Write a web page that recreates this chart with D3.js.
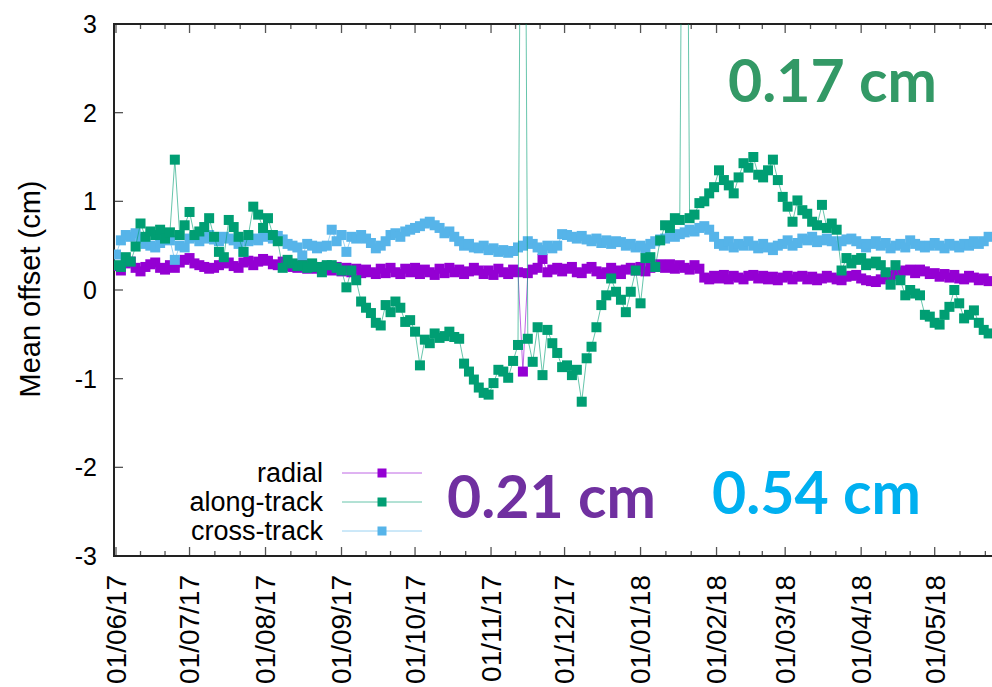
<!DOCTYPE html>
<html>
<head>
<meta charset="utf-8">
<script src="https://cdn.jsdelivr.net/npm/d3@7"></script>
<style>
  body { margin: 0; background: #fff; }
  svg { display: block; }
  text { font-family: "Liberation Sans", Arial, sans-serif; fill: #000; }
</style>
</head>
<body>
<div id="chart"></div>
<script>
// one sample every 2 days from the first day
const startDay = '2017-06-01';
const stepDays = 2;

const radial = [
  0.27, 0.22, 0.30, 0.32, 0.25, 0.21, 0.26, 0.29, 0.31, 0.25,
  0.23, 0.28, 0.25, 0.31, 0.34, 0.36, 0.30, 0.28, 0.26, 0.24,
  0.25, 0.28, 0.30, 0.31, 0.27, 0.25, 0.31, 0.33, 0.28, 0.32,
  0.35, 0.33, 0.29, 0.28, 0.32, 0.27, 0.26, 0.25, 0.29, 0.24,
  0.28, 0.24, 0.23, 0.27, 0.22, 0.26, 0.21, 0.25, 0.20, 0.24,
  0.19, 0.23, 0.20, 0.18, 0.24, 0.19, 0.25, 0.20, 0.18, 0.24,
  0.20, 0.25, 0.18, 0.23, 0.20, 0.17, 0.24, 0.19, 0.25, 0.20,
  0.23, 0.18, 0.21, 0.25, 0.22, 0.18, 0.22, 0.17, 0.24, 0.20,
  0.18, 0.23, 0.20, -0.92, 0.19, 0.23, 0.25, 0.35, 0.20, 0.23,
  0.25, 0.21, 0.24, 0.26, 0.20, 0.19, 0.24, 0.26, 0.21, 0.18,
  0.20, 0.25, 0.22, 0.18, 0.23, 0.25, 0.22, 0.26, 0.21, 0.25,
  0.26, 0.29, 0.25, 0.29, 0.24, 0.28, 0.25, 0.23, 0.28, 0.24,
  0.14, 0.12, 0.16, 0.13, 0.17, 0.12, 0.16, 0.14, 0.12, 0.16,
  0.17, 0.13, 0.16, 0.12, 0.15, 0.11, 0.14, 0.16, 0.12, 0.15,
  0.16, 0.12, 0.15, 0.11, 0.13, 0.16, 0.14, 0.12, 0.11, 0.15,
  0.16, 0.17, 0.13, 0.11, 0.10, 0.09, 0.12, 0.15, 0.16, 0.18,
  0.20, 0.22, 0.23, 0.19, 0.23, 0.21, 0.18, 0.19, 0.15, 0.18,
  0.14, 0.17, 0.13, 0.12, 0.16, 0.14, 0.11, 0.13, 0.10
];

const alongTrack = [
  0.28, 0.26, 0.37, 0.32, 0.49, 0.75, 0.60, 0.66, 0.62, 0.68,
  0.58, 0.65, 1.47, 0.62, 0.73, 0.88, 0.62, 0.66, 0.71, 0.81,
  0.60, 0.43, 0.37, 0.79, 0.71, 0.60, 0.43, 0.62, 0.94, 0.85,
  0.70, 0.81, 0.62, 0.55, 0.25, 0.34, 0.30, 0.27, 0.28, 0.25,
  0.30, 0.26, 0.20, 0.28, 0.28, 0.25, 0.22, 0.03, 0.22, 0.11,
  -0.13, -0.20, -0.26, -0.37, -0.40, -0.17, -0.25, -0.13, -0.20, -0.36,
  -0.34, -0.47, -0.85, -0.56, -0.60, -0.49, -0.54, -0.52, -0.47, -0.53,
  -0.55, -0.83, -0.92, -1.01, -1.10, -1.16, -1.18, -1.05, -0.90, -0.92,
  -0.99, -0.80, -0.62, 10, -0.55, -0.81, -0.42, -0.96, -0.45, -0.60,
  -0.71, -0.87, -0.85, -0.96, -0.90, -1.26, -0.77, -0.64, -0.42, -0.17,
  -0.06, 0.13, -0.02, -0.11, -0.25, -0.02, 0.22, -0.15, 0.36, 0.37,
  0.26, 0.56, 0.73, 0.70, 0.81, 0.79, 10, 0.81, 0.85, 0.98,
  1.00, 1.09, 1.16, 1.35, 1.24, 1.18, 1.09, 1.27, 1.43, 1.38,
  1.50, 1.30, 1.27, 1.35, 1.47, 1.24, 1.05, 0.94, 0.77, 1.01,
  0.90, 0.86, 0.77, 0.73, 0.96, 0.70, 0.75, 0.68, 0.22, 0.36,
  0.30, 0.34, 0.36, 0.28, 0.30, 0.32, 0.28, 0.20, 0.06, 0.28,
  0.11, -0.06, 0.00, -0.04, -0.06, -0.28, -0.30, -0.37, -0.39, -0.28,
  -0.19, 0.00, -0.15, -0.32, -0.28, -0.23, -0.37, -0.45, -0.49
];

const crossTrack = [
  0.40, 0.56, 0.62, 0.60, 0.64, 0.58, 0.52, 0.50, 0.48, 0.53,
  0.58, 0.56, 0.34, 0.50, 0.48, 0.58, 0.60, 0.55, 0.58, 0.62,
  0.57, 0.55, 0.60, 0.58, 0.56, 0.52, 0.43, 0.55, 0.58, 0.56,
  0.60, 0.62, 0.58, 0.61, 0.57, 0.52, 0.50, 0.48, 0.39, 0.52,
  0.50, 0.47, 0.49, 0.50, 0.68, 0.55, 0.62, 0.43, 0.60, 0.58,
  0.62, 0.58, 0.53, 0.47, 0.50, 0.55, 0.62, 0.64, 0.60, 0.66,
  0.68, 0.70, 0.72, 0.75, 0.77, 0.73, 0.70, 0.64, 0.66, 0.60,
  0.55, 0.50, 0.52, 0.48, 0.47, 0.50, 0.45, 0.47, 0.43, 0.45,
  0.42, 0.44, 0.48, 0.50, 0.55, 0.52, 0.48, 0.45, 0.50, 0.47,
  0.50, 0.63, 0.62, 0.60, 0.58, 0.61, 0.57, 0.55, 0.58, 0.53,
  0.56, 0.52, 0.55, 0.54, 0.50, 0.52, 0.48, 0.50, 0.47, 0.52,
  0.55, 0.57, 0.58, 0.62, 0.60, 0.63, 0.65, 0.68, 0.66, 0.70,
  0.72, 0.68, 0.60, 0.52, 0.50, 0.55, 0.48, 0.52, 0.50, 0.55,
  0.50, 0.47, 0.52, 0.48, 0.45, 0.50, 0.52, 0.56, 0.50, 0.53,
  0.58, 0.56, 0.60, 0.54, 0.56, 0.58, 0.55, 0.50, 0.55, 0.57,
  0.58, 0.55, 0.52, 0.48, 0.52, 0.55, 0.50, 0.53, 0.47, 0.50,
  0.52, 0.48, 0.56, 0.52, 0.50, 0.48, 0.50, 0.53, 0.50, 0.47,
  0.52, 0.50, 0.48, 0.52, 0.50, 0.55, 0.52, 0.55, 0.60
];

const seriesNames = ['radial', 'along-track', 'cross-track'];
const seriesColors = ['#9400d3', '#009e73', '#56b4e9'];
const yTicks = [-3, -2, -1, 0, 1, 2, 3];
const firstMonth = '2017-06-01';
const lastMonth = '2018-05-01';
const rmsLabels = ['0.21 cm', '0.17 cm', '0.54 cm'];
const rmsColors = ['#7030a0', '#339966', '#00b0f0'];

const W = 992, H = 687;
const plotLeft = 114, plotRight = 1000, plotTop = 24, plotBottom = 556;

const parse = d3.utcParse('%Y-%m-%d');
const t0 = parse(startDay);
const dates = radial.map((_, i) => d3.utcDay.offset(t0, i * stepDays));

const x = d3.scaleUtc().domain([parse(firstMonth), parse(lastMonth)]).range([116, 934.7]);
x.domain([x.invert(plotLeft), x.invert(plotRight)]).range([plotLeft, plotRight]);
const y = d3.scaleLinear().domain([-3, 3]).range([plotBottom, plotTop]);

const svg = d3.select('#chart').append('svg')
  .attr('width', W)
  .attr('height', H);

svg.append('defs').append('clipPath')
  .attr('id', 'plot-clip')
  .append('rect')
  .attr('x', plotLeft).attr('y', plotTop)
  .attr('width', plotRight - plotLeft).attr('height', plotBottom - plotTop);

// x ticks: months, with two minor ticks in each
const months = d3.utcMonth.range(parse(firstMonth), d3.utcMonth.offset(parse(lastMonth), 2));
const minors = [];
months.forEach(m => {
  const next = d3.utcMonth.offset(m, 1);
  [1, 2].forEach(k => minors.push(new Date(+m + (next - m) * k / 3)));
});

const ticks = svg.append('g')
  .attr('stroke', '#555')
  .attr('stroke-width', 1.3);

months.filter(m => x(m) <= W).forEach(m => {
  ticks.append('line').attr('x1', x(m)).attr('x2', x(m)).attr('y1', plotBottom).attr('y2', plotBottom - 9);
  ticks.append('line').attr('x1', x(m)).attr('x2', x(m)).attr('y1', plotTop).attr('y2', plotTop + 9);
});
minors.filter(m => x(m) <= W).forEach(m => {
  ticks.append('line').attr('x1', x(m)).attr('x2', x(m)).attr('y1', plotBottom).attr('y2', plotBottom - 5);
  ticks.append('line').attr('x1', x(m)).attr('x2', x(m)).attr('y1', plotTop).attr('y2', plotTop + 5);
});
yTicks.forEach(v => {
  ticks.append('line').attr('x1', plotLeft).attr('x2', plotLeft + 9).attr('y1', y(v)).attr('y2', y(v));
});

// X labels
const fmt = d3.utcFormat('%d/%m/%y');
svg.append('g')
  .selectAll('text')
  .data(months.filter(m => x(m) <= W))
  .enter().append('text')
  .attr('transform', d => `translate(${x(d)},575) rotate(-90)`)
  .attr('text-anchor', 'end')
  .attr('dy', '0.35em')
  .attr('font-size', 28)
  .text(d => fmt(d));

// Y labels
svg.append('g')
  .selectAll('text')
  .data(yTicks)
  .enter().append('text')
  .attr('x', 97)
  .attr('y', d => y(d))
  .attr('dy', '0.36em')
  .attr('text-anchor', 'end')
  .attr('font-size', 25)
  .text(d => d);

svg.append('text')
  .attr('transform', 'translate(30,289) rotate(-90)')
  .attr('text-anchor', 'middle')
  .attr('dy', '0.35em')
  .attr('font-size', 29)
  .text('Mean offset (cm)');

// Border
svg.append('path')
  .attr('d', `M${W},${plotTop}H${plotLeft}V${plotBottom}H${W}`)
  .attr('fill', 'none')
  .attr('stroke', '#222')
  .attr('stroke-width', 2);

// Series
const seriesData = [radial, alongTrack, crossTrack];
const plot = svg.append('g').attr('clip-path', 'url(#plot-clip)');
const line = d3.line()
  .x((d, i) => x(dates[i]))
  .y(d => y(d));
const sq = 10;

[0, 2, 1].forEach(s => {
  const g = plot.append('g');
  g.append('path')
    .datum(seriesData[s])
    .attr('fill', 'none')
    .attr('stroke', seriesColors[s])
    .attr('stroke-opacity', 0.6)
    .attr('stroke-width', 1)
    .attr('d', line);
  g.selectAll('rect')
    .data(seriesData[s])
    .enter().append('rect')
    .attr('x', (d, i) => x(dates[i]) - sq / 2)
    .attr('y', d => y(d) - sq / 2)
    .attr('width', sq)
    .attr('height', sq)
    .attr('fill', seriesColors[s]);
});

// Legend
const legendY = [473, 502, 531];
seriesNames.forEach((name, s) => {
  const ly = legendY[s];
  svg.append('text')
    .attr('x', 323)
    .attr('y', ly)
    .attr('dy', '0.35em')
    .attr('text-anchor', 'end')
    .attr('font-size', 27)
    .text(name);
  svg.append('line')
    .attr('x1', 342).attr('x2', 422)
    .attr('y1', ly).attr('y2', ly)
    .attr('stroke', seriesColors[s])
    .attr('stroke-opacity', 0.6)
    .attr('stroke-width', 1);
  svg.append('rect')
    .attr('x', 382 - 4.5).attr('y', ly - 4.5)
    .attr('width', 9).attr('height', 9)
    .attr('fill', seriesColors[s]);
});

// RMS annotations
const rmsPos = [[447, 518], [728, 102], [712, 514]];
rmsLabels.forEach((t, i) => {
  svg.append('text')
    .attr('x', rmsPos[i][0])
    .attr('y', rmsPos[i][1])
    .attr('font-weight', 700)
    .attr('font-size', 59)
    .style('fill', rmsColors[i])
    .style('font-family', 'Lato, "Open Sans", sans-serif')
    .text(t);
});
</script>
</body>
</html>
